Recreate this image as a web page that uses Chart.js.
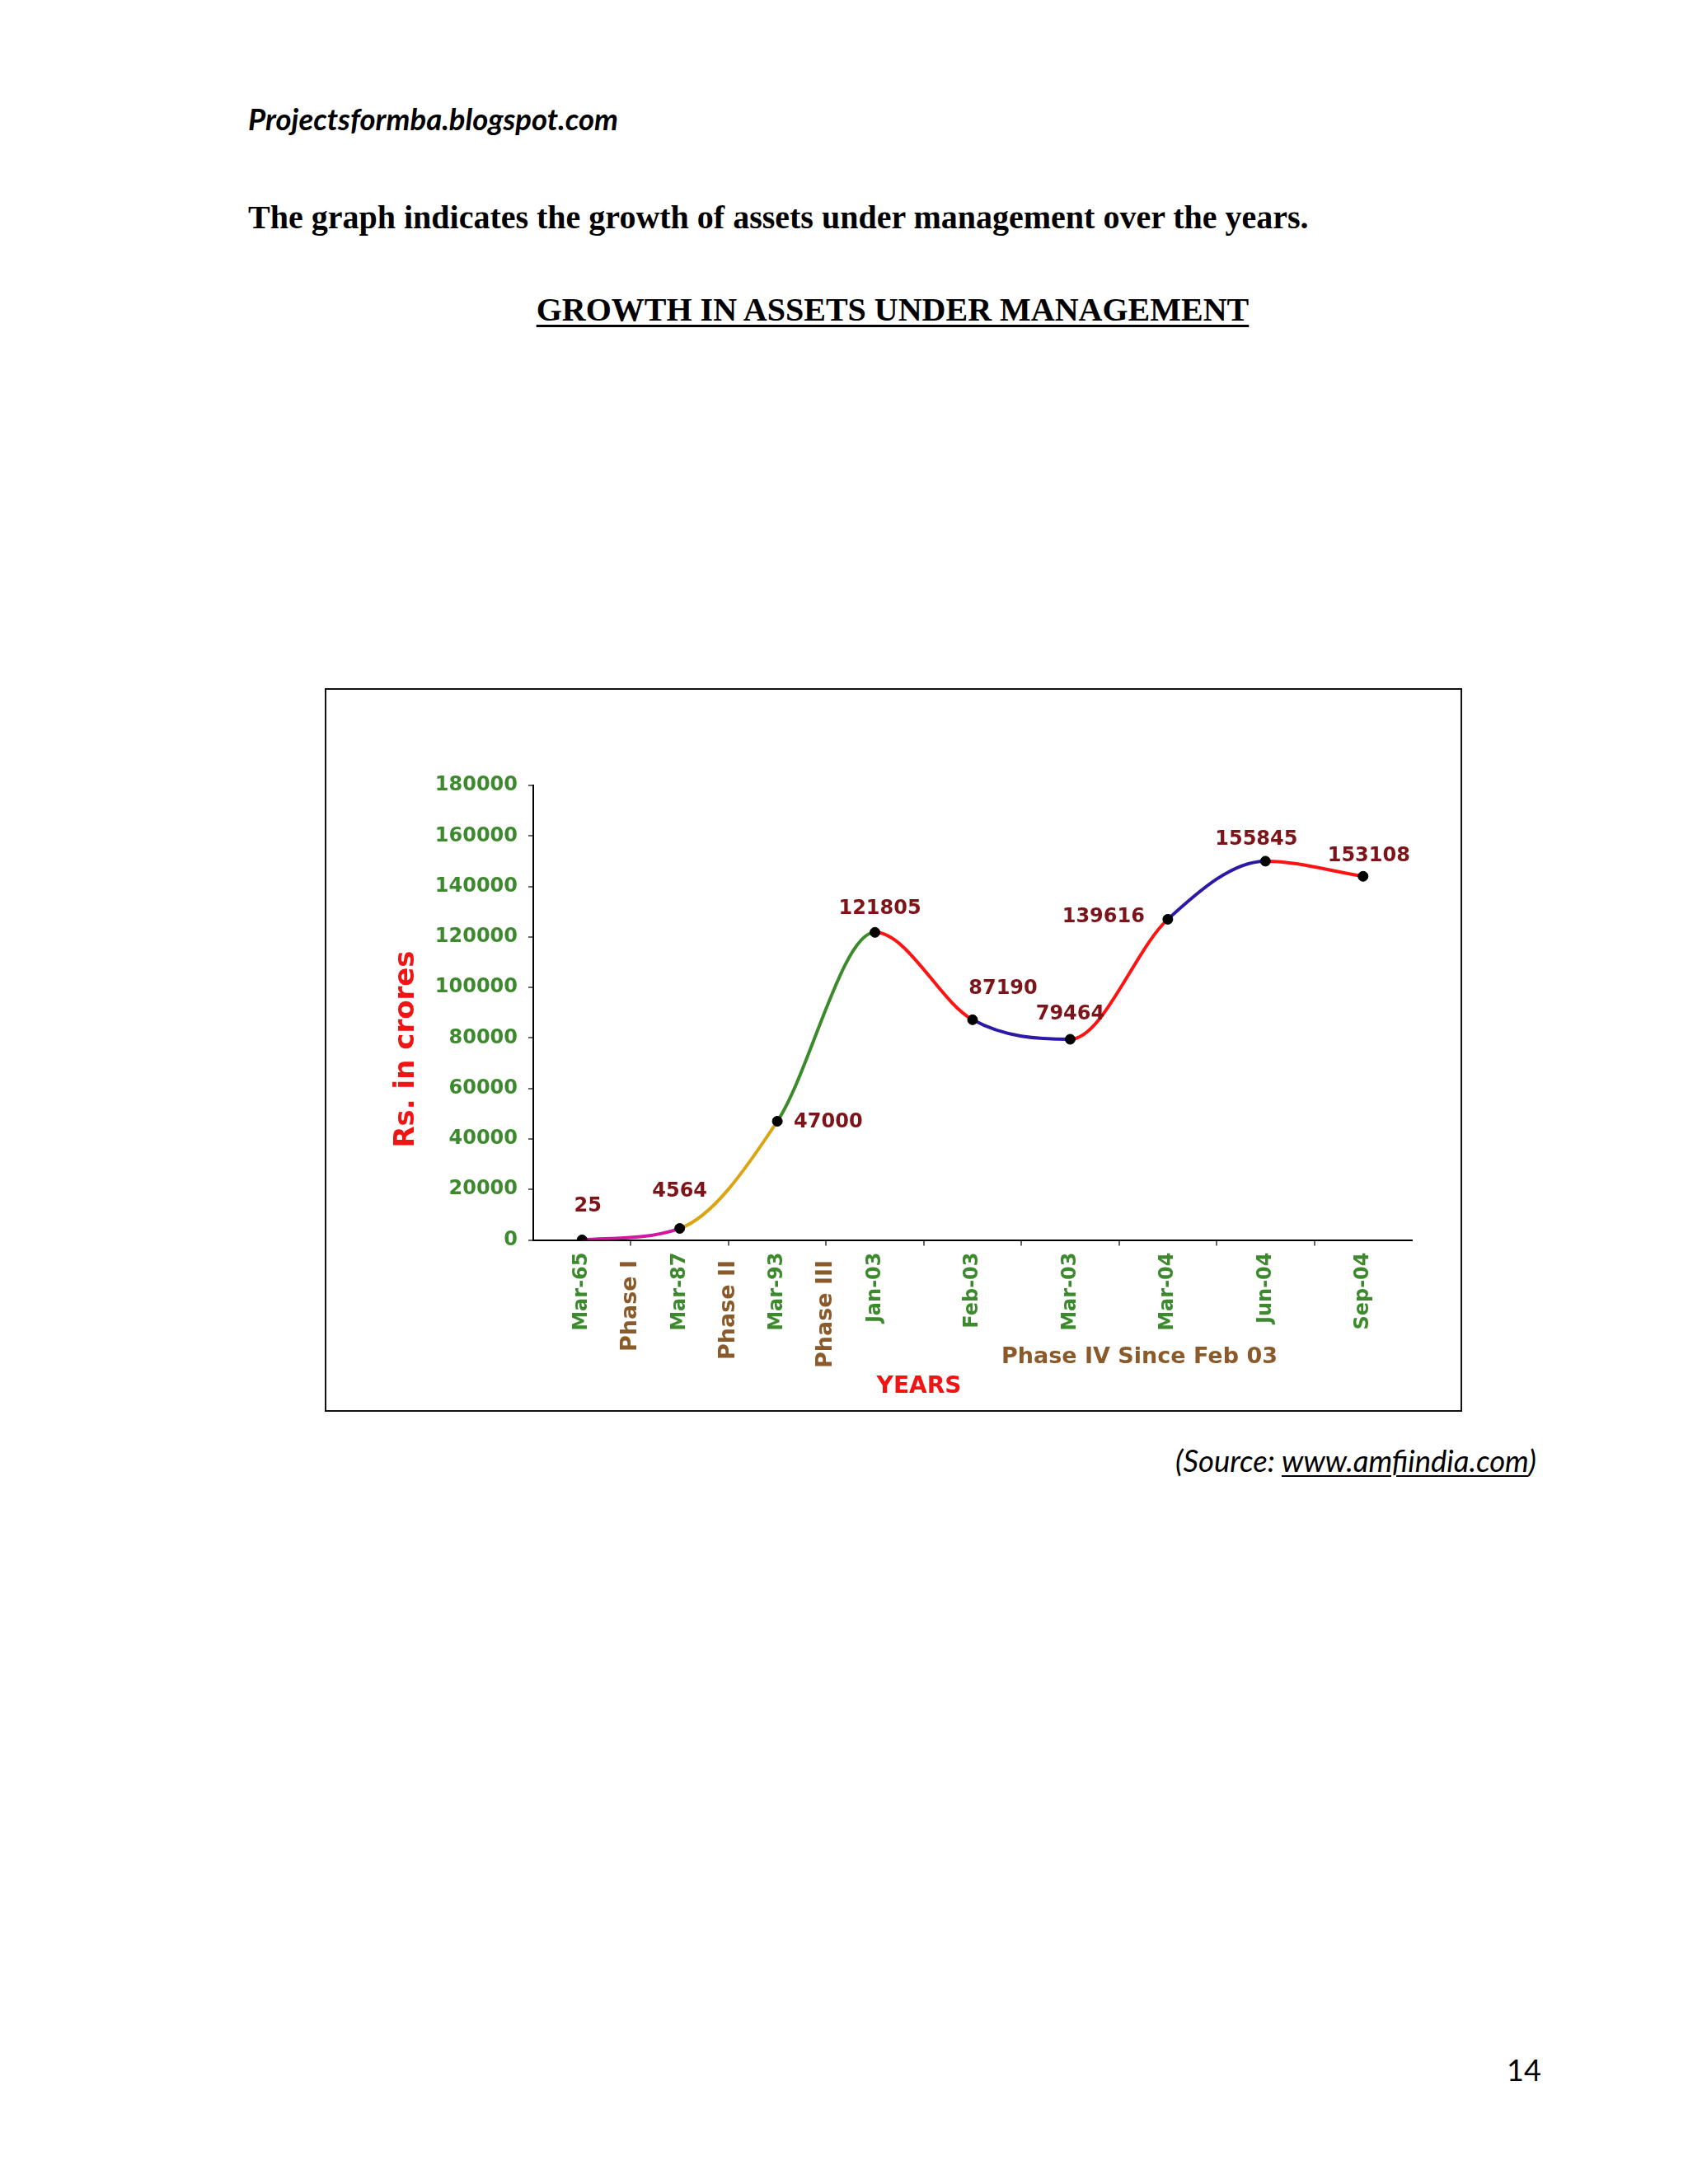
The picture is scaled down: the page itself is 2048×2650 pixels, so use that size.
<!DOCTYPE html>
<html>
<head>
<meta charset="utf-8">
<title>Growth in assets under management</title>
<script src="https://cdn.jsdelivr.net/npm/chart.js@4.4.1/dist/chart.umd.min.js"></script>
<style>
  html, body { margin: 0; padding: 0; background: #fff; }
  body { width: 2048px; height: 2650px; position: relative; overflow: hidden; }
  .txt { position: absolute; white-space: nowrap; line-height: 1; color: #000; }
  #site { left: 301px; top: 122px; font: italic bold 36.5px Lato, "Open Sans", sans-serif; }
  #intro { left: 301px; top: 240px; font: bold 40px "Liberation Serif", "Times New Roman", serif; }
  #heading { left: 483px; width: 1200px; top: 352px; text-align: center;
             font: bold 40px "Liberation Serif", "Times New Roman", serif;
             text-decoration: underline; text-decoration-thickness: 3px; text-underline-offset: 5px; }
  #box { position: absolute; left: 394px; top: 835px; width: 1380px; height: 878px;
         border: 2px solid #111; box-sizing: border-box; }
  #box canvas { display: block; }
  #source { right: 184px; top: 1750px; font: italic 36.5px Lato, "Open Sans", sans-serif; }
  #source u { text-decoration-thickness: 2px; text-underline-offset: 4px; }
  #pageno { left: 1799px; width: 100px; text-align: center; top: 2489px; font: 36px Lato, "Open Sans", sans-serif; }
</style>
</head>
<body>
<div class="txt" id="site">Projectsformba.blogspot.com</div>
<div class="txt" id="intro">The graph indicates the growth of assets under management over the years.</div>
<div class="txt" id="heading">GROWTH IN ASSETS UNDER MANAGEMENT</div>
<div id="box"><canvas id="aumChart" width="1376" height="874"></canvas></div>
<div class="txt" id="source">(Source: <u>www.amfiindia.com</u>)</div>
<div class="txt" id="pageno">14</div>

<script>
// dates on the x axis, one per point
const years = ['Mar-65', 'Mar-87', 'Mar-93', 'Jan-03', 'Feb-03', 'Mar-03', 'Mar-04', 'Jun-04', 'Sep-04'];
// phase names that sit between the first dates
const phases = ['Phase I', 'Phase II', 'Phase III'];
// numbers printed next to each point
const valueLabels = ['25', '4564', '47000', '121805', '87190', '79464', '139616', '155845', '153108'];
// height of each point as drawn on the original graph (Rs. in crores)
const plotted = [25, 4564, 47000, 121805, 87190, 79464, 127000, 150000, 144000];
// colour of the curve leaving each point
const segmentColors = ['#cf1aa0', '#dba412', '#3b8a2b', '#ff1212', '#2c1aa6', '#ff1212', '#2c1aa6', '#ff1212'];

const GREEN = '#3d8a2e';
const BROWN = '#8b5a2b';
const RED = '#f01414';
const FONT = '"DejaVu Sans", Verdana, sans-serif';

// where each value label goes relative to its point
const notePlace = [
  { dx: 7, dy: -41, align: 'center' },
  { dx: 0, dy: -45, align: 'center' },
  { dx: 20, dy: 1, align: 'left' },
  { dx: 6, dy: -29, align: 'center' },
  { dx: 37, dy: -38, align: 'center' },
  { dx: 0, dy: -30, align: 'center' },
  { dx: -28, dy: -3, align: 'right' },
  { dx: -11, dy: -26, align: 'center' },
  { dx: 7, dy: -25, align: 'center' }
];

const pointNotes = {
  id: 'pointNotes',
  afterDatasetsDraw(chart) {
    const ctx = chart.ctx;
    const pts = chart.getDatasetMeta(0).data;
    ctx.save();
    ctx.font = 'bold 24px ' + FONT;
    ctx.fillStyle = '#7d1419';
    ctx.textBaseline = 'middle';
    pts.forEach((p, i) => {
      const o = notePlace[i];
      ctx.textAlign = o.align;
      ctx.fillText(valueLabels[i], p.x + o.dx, p.y + o.dy);
    });
    ctx.restore();
  },
  afterDraw(chart) {
    const { ctx, chartArea: a } = chart;
    ctx.save();
    ctx.textBaseline = 'middle';
    // y axis title
    ctx.save();
    ctx.translate(a.left - 154, a.top + 320);
    ctx.rotate(-Math.PI / 2);
    ctx.textAlign = 'center';
    ctx.fillStyle = RED;
    ctx.font = 'bold 34px ' + FONT;
    ctx.fillText('Rs. in crores', 0, 0);
    ctx.restore();
    // phase IV note and x axis title
    ctx.textAlign = 'left';
    ctx.fillStyle = BROWN;
    ctx.font = 'bold 27px ' + FONT;
    ctx.fillText('Phase IV Since Feb 03', a.left + 568, a.bottom + 142);
    ctx.textAlign = 'center';
    ctx.fillStyle = RED;
    ctx.font = 'bold 28px ' + FONT;
    ctx.fillText('YEARS', a.left + 468, a.bottom + 178);
    ctx.restore();
  }
};

const isHalf = v => Number.isInteger(v - 0.5);
const isDate = c => !c.tick || Number.isInteger(c.tick.value);

new Chart(document.getElementById('aumChart'), {
  type: 'line',
  data: {
    datasets: [{
      data: plotted.map((v, i) => ({ x: i, y: v })),
      borderWidth: 4,
      borderColor: segmentColors[0],
      segment: {
        borderColor: c => segmentColors[c.p0DataIndex]
      },
      cubicInterpolationMode: 'monotone',
      pointRadius: 6,
      pointBackgroundColor: '#000',
      pointBorderColor: '#000',
      pointBorderWidth: 1,
      fill: false
    }]
  },
  options: {
    responsive: false,
    devicePixelRatio: 1,
    animation: false,
    layout: { padding: { left: 0, top: 116, right: 59, bottom: 0 } },
    plugins: {
      legend: { display: false },
      tooltip: { enabled: false }
    },
    scales: {
      x: {
        type: 'linear',
        min: -0.5,
        max: 8.5,
        afterFit: s => { s.height = 206.5; },
        border: { color: '#000', width: 2 },
        grid: {
          drawOnChartArea: false,
          tickLength: 7,
          lineWidth: 2,
          color: c => (c.tick && isHalf(c.tick.value) && c.tick.value > 0 && c.tick.value < 8) ? '#666' : 'rgba(0,0,0,0)'
        },
        ticks: {
          stepSize: 0.5,
          autoSkip: false,
          minRotation: 90,
          maxRotation: 90,
          padding: 8,
          color: c => isDate(c) ? GREEN : BROWN,
          font: c => ({ family: FONT, weight: 'bold', size: isDate(c) ? 24 : 27 }),
          callback: v => {
            if (Number.isInteger(v)) return years[v] || '';
            const k = v - 0.5;
            if (Number.isInteger(k) && k >= 0 && k < phases.length) return phases[k] + ' ';
            return '';
          }
        }
      },
      y: {
        min: 0,
        max: 180000,
        afterFit: s => { s.width = 251; },
        border: { color: '#000', width: 2 },
        grid: { drawOnChartArea: false, tickLength: 6, color: '#666', lineWidth: 2 },
        ticks: {
          stepSize: 20000,
          padding: 13,
          color: GREEN,
          font: { family: FONT, weight: 'bold', size: 24 },
          callback: v => String(v)
        }
      }
    }
  },
  plugins: [pointNotes]
});
</script>
</body>
</html>
